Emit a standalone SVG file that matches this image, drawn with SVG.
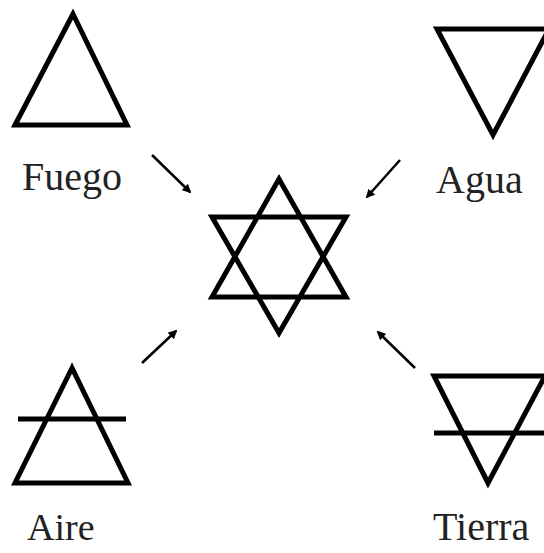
<svg xmlns="http://www.w3.org/2000/svg" width="544" height="553" viewBox="0 0 544 553">
<defs>
<marker id="ah" viewBox="0 0 10 10" refX="8" refY="5" markerWidth="3.6" markerHeight="3.6" orient="auto" markerUnits="strokeWidth">
<path d="M0,0 L10,5 L0,10 z" fill="#000"/>
</marker>
</defs>
<style>
.sym{fill:none;stroke:#000;stroke-width:5;stroke-linejoin:miter}
.bar{stroke:#000;stroke-width:5}
.lbl{font-family:"Liberation Serif","Times New Roman",serif;font-size:40px;fill:#222}
.arr{stroke:#000;stroke-width:2.5;fill:none;marker-end:url(#ah)}
</style>
<rect width="544" height="553" fill="#fff"/>
<g id="fuego">
<polygon class="sym" points="73,14 15,125 127,125"/>
<text class="lbl" x="22" y="190">Fuego</text>
</g>
<g id="agua">
<polygon class="sym" points="437,29 549,29 493,135"/>
<text class="lbl" x="436" y="193">Agua</text>
</g>
<g id="estrella">
<polygon class="sym" points="279,179 212,297 346,297"/>
<polygon class="sym" points="212,217 346,217 279,333"/>
</g>
<g id="aire">
<polygon class="sym" points="72,368 15,483 128,483"/>
<line class="bar" x1="18" y1="419" x2="126" y2="419"/>
<text class="lbl" x="27" y="540" style="font-size:38px">Aire</text>
</g>
<g id="tierra">
<polygon class="sym" points="434,376 545,376 488,483"/>
<line class="bar" x1="434" y1="433" x2="544" y2="433"/>
<text class="lbl" x="433" y="540">Tierra</text>
</g>
<g id="connectors">
<line class="arr" x1="152" y1="155" x2="190" y2="192"/>
<line class="arr" x1="400" y1="160" x2="367" y2="197"/>
<line class="arr" x1="142" y1="363" x2="176" y2="331"/>
<line class="arr" x1="415" y1="368" x2="378" y2="332"/>
</g>
</svg>
